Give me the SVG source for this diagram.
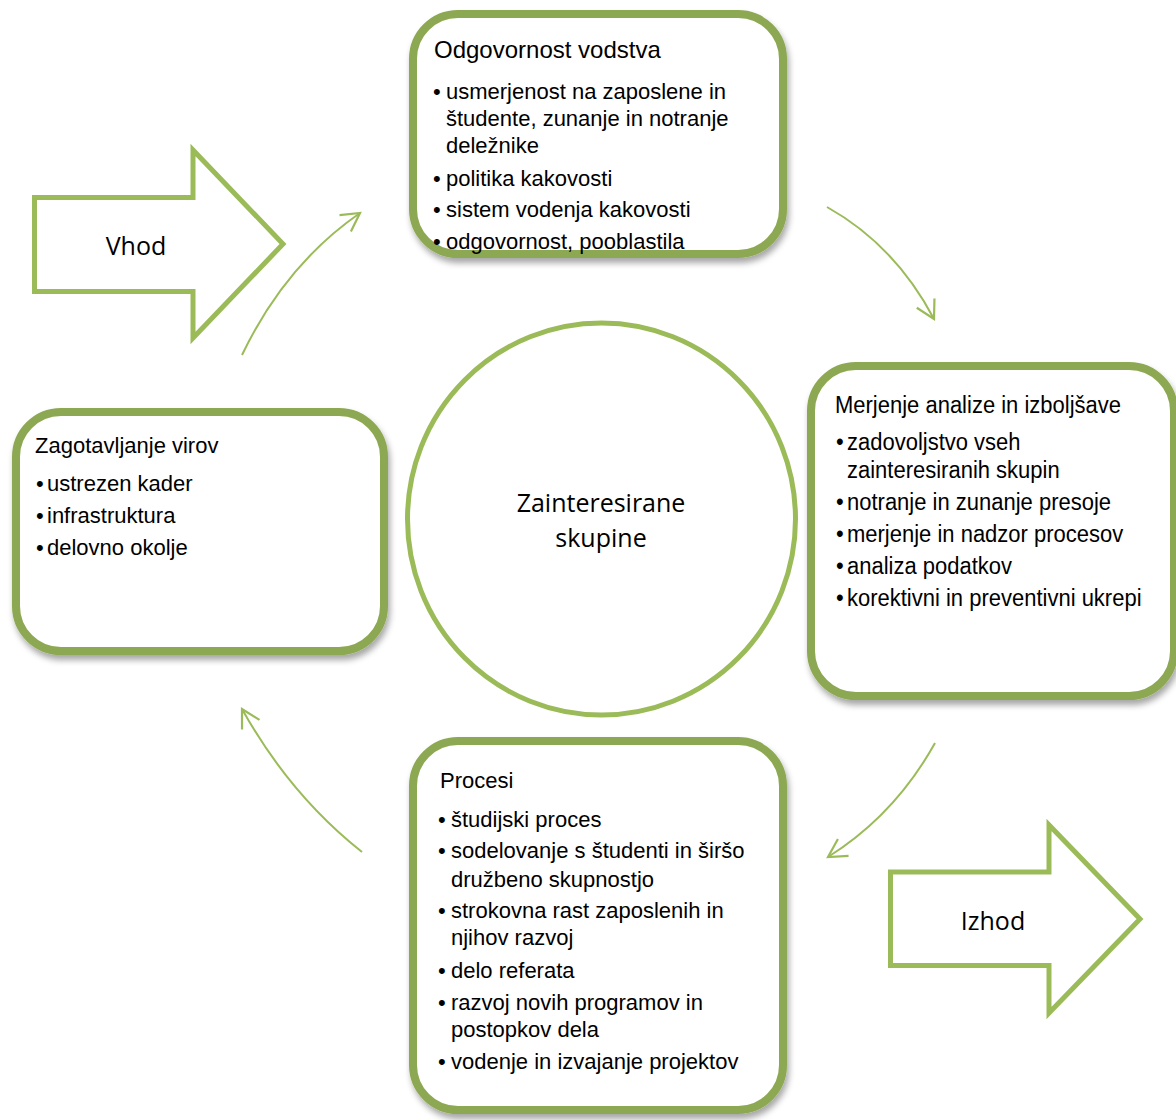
<svg xmlns="http://www.w3.org/2000/svg" width="1176" height="1120" viewBox="0 0 1176 1120">
<defs>
<style>
.box{fill:#fff;stroke:#8DA852;stroke-width:8;filter:url(#sh)}
.t{font-family:"Liberation Sans",Arial,sans-serif;font-size:22px;fill:#000}
.h{font-size:24px}
.c{font-family:"Open Sans","Noto Sans",sans-serif;font-size:25px;fill:#000;text-anchor:middle}
.big{fill:#fff;stroke:#9BBB59;stroke-width:5}
.conn{fill:none;stroke:#9BBB59;stroke-width:2;marker-end:url(#ah)}
</style>
<filter id="sh" x="-10%" y="-10%" width="125%" height="130%">
<feDropShadow dx="2" dy="5" stdDeviation="3" flood-color="#000" flood-opacity="0.35"/>
</filter>
<marker id="ah" markerUnits="userSpaceOnUse" viewBox="-22 -13 26 26" refX="0" refY="0" markerWidth="26" markerHeight="26" orient="auto">
<path d="M-18,-10 L0,0 L-18,10" fill="none" stroke="#9BBB59" stroke-width="2.2"/>
</marker>
</defs>
<rect width="1176" height="1120" fill="#fff"/>

<g id="vhod">
<path class="big" d="M34.5,197.5 H193 V150 L283,244 L193,338 V291.5 H34.5 Z"/>
<text class="c" x="136" y="255">Vhod</text>
</g>

<g id="izhod">
<path class="big" d="M890.5,872 H1049 V825 L1140,919 L1049,1013 V965.5 H890.5 Z"/>
<text class="c" x="993" y="930">Izhod</text>
</g>

<g id="zainteresirane">
<ellipse cx="601.5" cy="519" rx="194" ry="196" fill="#fff" stroke="#9BBB59" stroke-width="5"/>
<text class="c" x="601" y="512">Zainteresirane</text>
<text class="c" x="601" y="547">skupine</text>
</g>

<g id="connectors">
<path class="conn" d="M242,355 Q285,265 360,213"/>
<path class="conn" d="M827,207 Q895,245 934,319"/>
<path class="conn" d="M935,743 Q895,815 828,857"/>
<path class="conn" d="M362,852 Q290,795 242,709"/>
</g>

<g id="odgovornost">
<rect class="box" x="413" y="14" width="370" height="240" rx="45"/>
<text class="t h" x="434" y="58">Odgovornost vodstva</text>
<text class="t" x="433" y="99">•</text>
<text class="t" x="446" y="99">usmerjenost na zaposlene in</text>
<text class="t" x="446" y="126">študente, zunanje in notranje</text>
<text class="t" x="446" y="153">deležnike</text>
<text class="t" x="433" y="186">•</text>
<text class="t" x="446" y="186">politika kakovosti</text>
<text class="t" x="433" y="217">•</text>
<text class="t" x="446" y="217">sistem vodenja kakovosti</text>
<text class="t" x="433" y="249">•</text>
<text class="t" x="446" y="249">odgovornost, pooblastila</text>
</g>

<g id="zagotavljanje">
<rect class="box" x="16" y="412" width="368" height="239" rx="45"/>
<text class="t" x="35" y="453">Zagotavljanje virov</text>
<text class="t" x="36" y="491">•</text>
<text class="t" x="47" y="491">ustrezen kader</text>
<text class="t" x="36" y="523">•</text>
<text class="t" x="47" y="523">infrastruktura</text>
<text class="t" x="36" y="555">•</text>
<text class="t" x="47" y="555">delovno okolje</text>
</g>

<g id="merjenje">
<rect class="box" x="811" y="366" width="363" height="330" rx="45"/>
<text class="t" transform="translate(835 413) scale(1 1.12)">Merjenje analize in izboljšave</text>
<text class="t" transform="translate(836 450) scale(1 1.12)">•</text>
<text class="t" transform="translate(847 450) scale(1 1.12)">zadovoljstvo vseh</text>
<text class="t" transform="translate(847 478) scale(1 1.12)">zainteresiranih skupin</text>
<text class="t" transform="translate(836 510) scale(1 1.12)">•</text>
<text class="t" transform="translate(847 510) scale(1 1.12)">notranje in zunanje presoje</text>
<text class="t" transform="translate(836 542) scale(1 1.12)">•</text>
<text class="t" transform="translate(847 542) scale(1 1.12)">merjenje in nadzor procesov</text>
<text class="t" transform="translate(836 574) scale(1 1.12)">•</text>
<text class="t" transform="translate(847 574) scale(1 1.12)">analiza podatkov</text>
<text class="t" transform="translate(836 606) scale(1 1.12)">•</text>
<text class="t" transform="translate(847 606) scale(1 1.12)">korektivni in preventivni ukrepi</text>
</g>

<g id="procesi">
<rect class="box" x="413" y="741" width="370" height="369" rx="45"/>
<text class="t" x="440" y="788">Procesi</text>
<text class="t" x="438" y="827">•</text>
<text class="t" x="451" y="827">študijski proces</text>
<text class="t" x="438" y="858">•</text>
<text class="t" x="451" y="858">sodelovanje s študenti in širšo</text>
<text class="t" x="451" y="887">družbeno skupnostjo</text>
<text class="t" x="438" y="918">•</text>
<text class="t" x="451" y="918">strokovna rast zaposlenih in</text>
<text class="t" x="451" y="945">njihov razvoj</text>
<text class="t" x="438" y="978">•</text>
<text class="t" x="451" y="978">delo referata</text>
<text class="t" x="438" y="1010">•</text>
<text class="t" x="451" y="1010">razvoj novih programov in</text>
<text class="t" x="451" y="1037">postopkov dela</text>
<text class="t" x="438" y="1069">•</text>
<text class="t" x="451" y="1069">vodenje in izvajanje projektov</text>
</g>
</svg>
